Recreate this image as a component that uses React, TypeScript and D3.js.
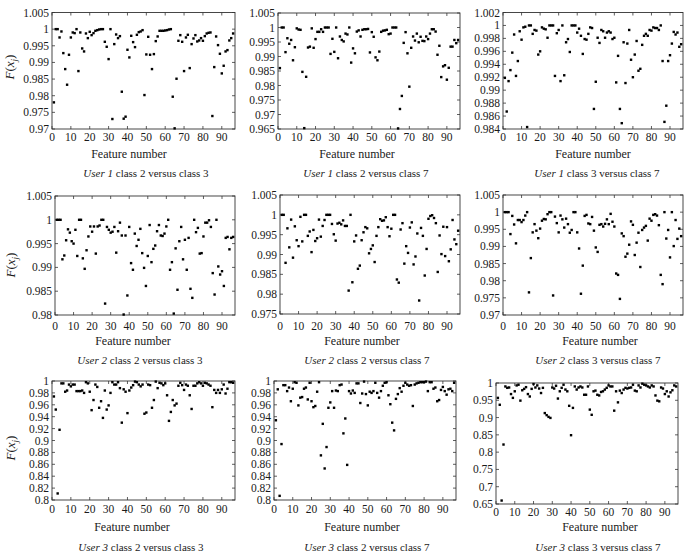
import { useEffect } from "react";
import * as d3 from "d3";

// feature index 1..96 on every panel
const features = d3.range(1, 97);
const xTicks = [0, 10, 20, 30, 40, 50, 60, 70, 80, 90];

const users = ["1", "1", "1", "2", "2", "2", "3", "3", "3"];
const comparisons = [
  "class 2 versus class 3",
  "class 2 versus class 7",
  "class 3 versus class 7",
];

// F(x_j), one value per feature
const u1c2v3 = [
  0.978, 1.0, 1.0, 0.9975, 0.9993, 0.9928, 0.988, 0.9833, 0.9923, 0.9975,
  0.999, 0.9988, 1.0, 0.9874, 0.999, 0.9942, 0.9933, 0.9987, 0.9973, 0.9992,
  0.9982, 0.9988, 0.9995, 0.9997, 0.9999, 1.0, 1.0, 0.9962, 0.9947, 0.991,
  1.0, 0.973, 0.9955, 0.9984, 0.9973, 0.9979, 0.9812, 0.9731, 0.9737, 0.9938,
  0.9915, 0.998, 0.9961, 0.9946, 0.9983, 0.9991, 0.9993, 0.9997, 0.9802, 0.9924,
  0.9977, 0.9923, 0.988, 0.9925, 0.9964, 0.9978, 0.9995, 0.9995, 0.9995, 0.9996,
  0.9997, 0.9999, 1.0, 0.9797, 0.9702, 0.9851, 0.9965, 0.9982, 0.9962, 0.9874,
  0.9975, 0.9983, 0.9883, 0.9955, 0.9972, 0.9982, 0.9963, 0.9966, 0.9973, 0.9965,
  0.9979, 0.9987, 0.9989, 0.999, 0.9739, 0.9886, 0.9978, 0.9952, 0.9926, 0.9867,
  0.989, 0.9933, 0.9937, 0.9966, 0.9973, 0.9987,
];
const u1c2v7 = [
  0.986, 1.0, 1.0, 0.9915, 0.9963, 0.9944, 0.9957, 0.9887, 0.9932, 0.9997,
  0.9993, 0.9992, 0.9847, 0.9653, 0.983, 0.9931, 0.9934, 0.9997, 0.993, 0.996,
  0.9985, 0.9985, 0.9994, 0.9985, 1.0, 1.0, 1.0, 0.9909, 0.9961, 0.9916,
  1.0, 0.9894, 0.9969, 0.9957, 0.9952, 0.9979, 0.9976, 1.0, 0.9879, 0.9928,
  0.9911, 0.9986, 0.999, 0.9969, 0.9992, 0.9994, 0.9994, 0.9995, 0.9914, 0.9984,
  0.9968, 0.9897, 0.9887, 0.9917, 0.9985, 0.9989, 0.999, 0.9992, 0.9977, 0.9979,
  1.0, 1.0, 1.0, 0.9652, 0.9719, 0.9764, 0.9947, 0.9984, 0.9911, 0.9796,
  0.993, 0.9969, 0.9955, 0.9979, 0.9949, 0.9968, 0.9954, 0.9953, 0.9969, 0.996,
  0.9979, 0.9994, 0.9994, 0.9986, 0.9906, 0.9937, 0.9829, 0.9866, 0.987, 0.982,
  0.9861, 0.9934, 0.9934, 0.9957, 0.9946, 0.9957,
];
const u1c3v7 = [
  0.9919, 0.9867, 0.9914, 0.9931, 0.9958, 0.9986, 0.9922, 0.9945, 0.9991, 0.9978,
  0.9997, 0.9998, 0.9843, 1.0, 1.0, 0.9987, 0.9993, 0.9992, 0.9955, 0.996,
  0.9997, 0.9995, 0.9994, 0.9981, 1.0, 1.0, 1.0, 0.9922, 0.9988, 0.9993,
  0.9914, 1.0, 0.9923, 0.9974, 0.9979, 0.9959, 1.0, 1.0, 1.0, 0.9989,
  0.9995, 0.9984, 0.9956, 0.9979, 0.9978, 0.9987, 0.9997, 0.9996, 0.9871, 0.9913,
  0.9981, 0.9973, 0.9993, 0.9991, 0.9981, 0.9989, 0.9991, 0.9989, 0.9979, 0.9981,
  0.9912, 0.9953, 0.9871, 0.9849, 0.9974, 0.9911, 0.9972, 0.9993, 0.9947, 0.992,
  0.9955, 0.9976, 0.993, 0.9933, 0.997, 0.9984, 0.9987, 0.9984, 0.9993, 0.9992,
  0.9997, 0.9996, 0.9996, 0.9993, 1.0, 0.9945, 0.9851, 0.9876, 0.9945, 0.9954,
  0.9972, 0.999, 0.9986, 0.9989, 0.9967, 0.9971,
];
const u2c2v3 = [
  1.0, 1.0, 1.0, 0.9917, 0.9925, 0.9957, 0.998, 0.9973, 0.9955, 0.995,
  0.9979, 0.9924, 1.0, 1.0, 0.9919, 0.9897, 0.9936, 0.9965, 0.9986, 0.9975,
  0.9986, 0.9929, 0.9986, 0.9988, 1.0, 1.0, 0.9824, 0.9985, 0.9979, 0.9973,
  0.9975, 0.9985, 0.9931, 0.9976, 0.9994, 0.9967, 0.9801, 0.9967, 0.9841, 0.9985,
  0.9909, 0.9895, 0.9971, 0.9945, 0.9958, 0.9981, 0.993, 0.9899, 0.9861, 0.9924,
  0.9989, 0.9911, 0.9939, 0.9946, 0.9976, 0.9989, 0.9967, 0.9966, 0.9971, 0.9986,
  1.0, 0.9895, 0.9911, 0.9803, 0.994, 0.9853, 0.9955, 0.9985, 0.9917, 0.9958,
  0.9895, 0.9962, 0.9855, 0.9836, 1.0, 0.9974, 0.9983, 0.9929, 0.993, 0.9965,
  0.9994, 0.9994, 0.9999, 0.9985, 0.9888, 0.9843, 1.0, 0.9902, 0.9885, 0.9892,
  0.9861, 0.9962, 0.9964, 0.9938, 0.9962, 0.9964,
];
const u2c2v7 = [
  1.0, 1.0, 0.9879, 0.9966, 0.9918, 0.9988, 0.9892, 0.9971, 0.9936, 0.9921,
  0.9995, 0.9933, 1.0, 1.0, 0.9947, 0.9958, 0.9906, 0.9962, 0.9934, 0.9941,
  0.9988, 0.9945, 0.9972, 0.9987, 1.0, 1.0, 1.0, 0.9977, 0.9951, 0.9935,
  0.9978, 0.998, 0.9976, 0.9986, 0.9972, 0.9972, 0.9809, 1.0, 0.983, 0.9933,
  0.9948, 0.9864, 0.9872, 0.9936, 0.9956, 0.9969, 0.9966, 0.9903, 0.9914, 0.9923,
  0.9881, 0.9947, 0.9969, 0.9989, 0.9985, 0.9986, 0.9994, 0.9969, 0.9946, 0.9965,
  1.0, 1.0, 0.9837, 0.9829, 0.9963, 0.9979, 0.9877, 0.9921, 0.9904, 0.9968,
  0.9981, 0.9875, 0.9895, 0.9953, 0.9784, 0.9967, 0.9947, 0.9847, 0.9914, 0.999,
  0.9997, 0.9999, 0.9992, 0.9979, 0.9856, 0.9948, 0.9901, 0.997, 0.9896, 0.9969,
  0.9883, 0.9913, 0.9987, 0.9938, 0.9926, 0.996,
];
const u2c3v7 = [
  1.0, 1.0, 1.0, 0.9936, 0.9989, 0.9964, 0.9909, 0.9977, 0.9977, 0.9971,
  0.9977, 0.999, 1.0, 0.9766, 0.9866, 0.9941, 0.9965, 0.9946, 0.9924, 0.9952,
  0.9975, 0.998, 0.9979, 0.9994, 1.0, 1.0, 0.9757, 0.9987, 0.9968, 0.9941,
  0.999, 0.9979, 0.9955, 0.9981, 0.9965, 0.994, 0.9948, 1.0, 1.0, 0.9941,
  0.9894, 0.9762, 0.9844, 0.9989, 0.9992, 0.9967, 0.9965, 0.9986, 0.9946, 0.9897,
  0.9884, 0.9963, 0.9965, 0.9958, 0.9966, 0.9979, 0.9965, 0.9995, 0.9972, 0.9958,
  0.9821, 0.9817, 0.9747, 0.9938, 0.993, 0.987, 0.9879, 0.9905, 0.9973, 0.9963,
  0.9875, 0.9911, 0.994, 0.984, 0.9948, 0.9955, 0.996, 0.9917, 0.9981, 0.9975,
  0.9992, 0.9994, 0.999, 0.9962, 0.9817, 0.979, 1.0, 0.9923, 0.9948, 0.9868,
  1.0, 0.9901, 0.9977, 0.9922, 0.9952, 0.993,
];
const u3c2v3 = [
  0.974, 0.952, 0.811, 0.918, 0.996, 0.996, 0.982, 0.984, 0.994, 0.991,
  0.994, 0.994, 0.983, 0.983, 0.983, 0.984, 0.98, 0.998, 0.996, 0.982,
  0.951, 0.968, 0.994, 0.99, 0.955, 0.966, 0.938, 0.984, 0.952, 0.959,
  0.98, 0.998, 0.994, 0.994, 0.998, 0.988, 0.93, 0.986, 0.982, 0.946,
  0.984, 0.989, 0.993, 0.999, 0.998, 0.994, 0.991, 0.994, 0.945, 0.947,
  0.994, 0.993, 0.955, 0.968, 0.999, 0.988, 0.997, 0.996, 0.993, 0.996,
  0.976, 0.933, 0.948, 0.968, 0.959, 0.962, 0.992, 0.997, 0.993, 0.985,
  0.994, 0.992, 0.976, 0.953, 0.992, 0.992, 0.996, 0.998, 0.996, 0.992,
  0.997, 0.996, 0.994, 0.992, 0.956, 0.985, 0.98, 0.985, 0.98, 0.986,
  0.994, 0.979, 0.987, 0.998, 0.998, 0.997,
];
const u3c2v7 = [
  0.934, 0.986, 0.807, 0.894, 0.993, 0.993, 0.983, 0.989, 0.966, 0.987,
  0.998, 0.997, 0.959, 0.972, 0.973, 0.987, 0.989, 0.969, 0.997, 0.966,
  0.956, 0.958, 0.982, 0.998, 0.875, 0.928, 0.853, 0.889, 0.955, 0.964,
  0.983, 0.955, 0.984, 0.983, 0.993, 0.994, 0.912, 0.937, 0.859, 0.983,
  0.979, 0.984, 0.98, 0.996, 0.996, 0.963, 0.979, 0.999, 0.978, 0.959,
  0.982, 0.98, 0.983, 0.997, 0.98, 0.972, 0.983, 0.992, 0.997, 0.998,
  0.976, 0.961, 0.93, 0.917, 0.97, 0.978, 0.988, 0.982, 0.992, 0.997,
  0.994, 0.992, 0.993, 0.958, 0.994, 0.996, 0.997, 0.998, 0.998, 0.998,
  0.999, 0.983, 0.998, 0.998, 0.987, 0.989, 0.966, 0.968, 0.985, 0.99,
  0.983, 0.977, 0.986, 0.987, 0.983, 0.997,
];
const u3c3v7 = [
  0.957, 0.937, 0.66, 0.822, 0.99, 0.986, 0.987, 0.968, 0.957, 0.976,
  0.993, 0.995, 0.949, 0.979, 0.983, 0.988, 0.968, 0.961, 0.983, 0.997,
  0.987, 0.993, 0.984, 0.971, 0.986, 0.913, 0.907, 0.902, 0.899, 0.987,
  0.984, 0.992, 0.955, 0.976, 0.986, 0.995, 0.981, 0.976, 0.934, 0.849,
  0.928, 0.99, 0.981, 0.987, 0.99, 0.987, 0.966, 0.966, 0.99, 0.923,
  0.908, 0.976, 0.978, 0.966, 0.964, 0.974, 0.976, 0.981, 0.986, 0.993,
  0.99, 0.99, 0.92, 0.976, 0.944, 0.978, 0.971, 0.981, 0.986, 0.984,
  0.986, 0.987, 0.995, 0.978, 0.976, 0.993, 0.987, 0.998, 0.995, 0.993,
  0.99, 0.987, 0.993, 0.99, 0.964, 0.949, 0.947, 0.987, 0.984, 0.968,
  0.976, 0.961, 0.973, 0.979, 0.993, 0.99,
];

const yTicksU1c2v3 = [0.97, 0.975, 0.98, 0.985, 0.99, 0.995, 1, 1.005];
const yTicksU1c2v7 = [0.965, 0.97, 0.975, 0.98, 0.985, 0.99, 0.995, 1, 1.005];
const yTicksU1c3v7 = [0.984, 0.986, 0.988, 0.99, 0.992, 0.994, 0.996, 0.998, 1, 1.002];
const yTicksU2c2v3 = [0.98, 0.985, 0.99, 0.995, 1, 1.005];
const yTicksU2c2v7 = [0.975, 0.98, 0.985, 0.99, 0.995, 1, 1.005];
const yTicksU2c3v7 = [0.97, 0.975, 0.98, 0.985, 0.99, 0.995, 1, 1.005];
const yTicksU3 = [0.8, 0.82, 0.84, 0.86, 0.88, 0.9, 0.92, 0.94, 0.96, 0.98, 1];
const yTicksU3c3v7 = [0.65, 0.7, 0.75, 0.8, 0.85, 0.9, 0.95, 1];

const series = [u1c2v3, u1c2v7, u1c3v7, u2c2v3, u2c2v7, u2c3v7, u3c2v3, u3c2v7, u3c3v7];
const yTickSets = [
  yTicksU1c2v3, yTicksU1c2v7, yTicksU1c3v7,
  yTicksU2c2v3, yTicksU2c2v7, yTicksU2c3v7,
  yTicksU3, yTicksU3, yTicksU3c3v7,
];

const boxes = [
  { l: 52, r: 235, t: 12.5, b: 129, tickY: 141, xlabX: 129, xlabY: 158, subX: 146, subY: 177 },
  { l: 278, r: 460, t: 13, b: 129, tickY: 141, xlabX: 357, xlabY: 158, subX: 366, subY: 177 },
  { l: 503, r: 683, t: 12.5, b: 129, tickY: 141, xlabX: 593, xlabY: 158, subX: 597, subY: 177 },
  { l: 55, r: 235, t: 196, b: 315, tickY: 330, xlabX: 133, xlabY: 345, subX: 140, subY: 364 },
  { l: 280, r: 460, t: 195, b: 314, tickY: 330, xlabX: 362, xlabY: 345, subX: 367, subY: 364 },
  { l: 503, r: 683, t: 195, b: 315, tickY: 330, xlabX: 600, xlabY: 345, subX: 598, subY: 364 },
  { l: 52, r: 235, t: 381, b: 500, tickY: 513, xlabX: 132, xlabY: 531, subX: 141, subY: 551 },
  { l: 274, r: 456, t: 381, b: 500, tickY: 513, xlabX: 362, xlabY: 531, subX: 367, subY: 551 },
  { l: 496, r: 678, t: 383, b: 504, tickY: 516, xlabX: 600, xlabY: 531, subX: 598, subY: 551 },
];
const yLabelPos = [
  { x: 14, y: 67 },
  { x: 15, y: 265 },
  { x: 15, y: 448 },
];

const FONT = "Liberation Serif, DejaVu Serif, serif";
const INK = "#1a1a1a";

function fmt(v: number) {
  return String(+v.toFixed(3));
}

function Panel({ idx }: { idx: number }) {
  const bx = boxes[idx];
  const data = series[idx];
  const yTicks = yTickSets[idx];
  const x = d3.scaleLinear().domain([0, 97]).range([bx.l, bx.r]);
  const y = d3
    .scaleLinear()
    .domain([yTicks[0], yTicks[yTicks.length - 1]])
    .range([bx.b, bx.t]);
  const tl = 3;

  return (
    <g>
      {/* x ticks (bottom and top, inward) */}
      {xTicks.map((t) => (
        <g key={"x" + t}>
          <line x1={x(t)} x2={x(t)} y1={bx.b} y2={bx.b - tl} stroke={INK} strokeWidth={0.7} />
          <line x1={x(t)} x2={x(t)} y1={bx.t} y2={bx.t + tl} stroke={INK} strokeWidth={0.7} />
          <text x={x(t)} y={bx.tickY} textAnchor="middle" fontSize={11.5} fill={INK} fontFamily={FONT}>
            {t}
          </text>
        </g>
      ))}
      {/* y ticks (left and right, inward) */}
      {yTicks.map((t) => (
        <g key={"y" + t}>
          <line x1={bx.l} x2={bx.l + tl} y1={y(t)} y2={y(t)} stroke={INK} strokeWidth={0.7} />
          <line x1={bx.r} x2={bx.r - tl} y1={y(t)} y2={y(t)} stroke={INK} strokeWidth={0.7} />
          <text
            x={bx.l - 3}
            y={y(t)}
            dy="0.35em"
            textAnchor="end"
            fontSize={11.5}
            fill={INK}
            fontFamily={FONT}
          >
            {fmt(t)}
          </text>
        </g>
      ))}
      <rect
        x={bx.l}
        y={bx.t}
        width={bx.r - bx.l}
        height={bx.b - bx.t}
        fill="none"
        stroke="#333"
        strokeWidth={0.9}
      />
      {features.map((f, i) => (
        <rect
          key={f}
          x={x(f) - 1.2}
          y={y(data[i]) - 1.2}
          width={2.4}
          height={2.4}
          fill="#000"
        />
      ))}
      <text x={bx.xlabX} y={bx.xlabY} textAnchor="middle" fontSize={12} fill={INK} fontFamily={FONT}>
        Feature number
      </text>
      <text x={bx.subX} y={bx.subY} textAnchor="middle" fontSize={11} fill={INK} fontFamily={FONT}>
        <tspan fontStyle="italic">User {users[idx]}</tspan> {comparisons[idx % 3]}
      </text>
    </g>
  );
}

export default function App() {
  useEffect(() => {
    document.body.style.margin = "0";
  }, []);

  return (
    <svg width={691} height={556} style={{ display: "block", background: "#fff" }}>
      {series.map((_, i) => (
        <Panel key={i} idx={i} />
      ))}
      {yLabelPos.map((p, i) => (
        <text
          key={i}
          transform={`translate(${p.x},${p.y}) rotate(-90)`}
          textAnchor="middle"
          fontSize={13}
          fill={INK}
          fontFamily={FONT}
        >
          <tspan fontStyle="italic">F</tspan>(<tspan fontStyle="italic">x</tspan>
          <tspan fontStyle="italic" fontSize={9} dy={3}>j</tspan>
          <tspan dy={-3}>)</tspan>
        </text>
      ))}
    </svg>
  );
}
